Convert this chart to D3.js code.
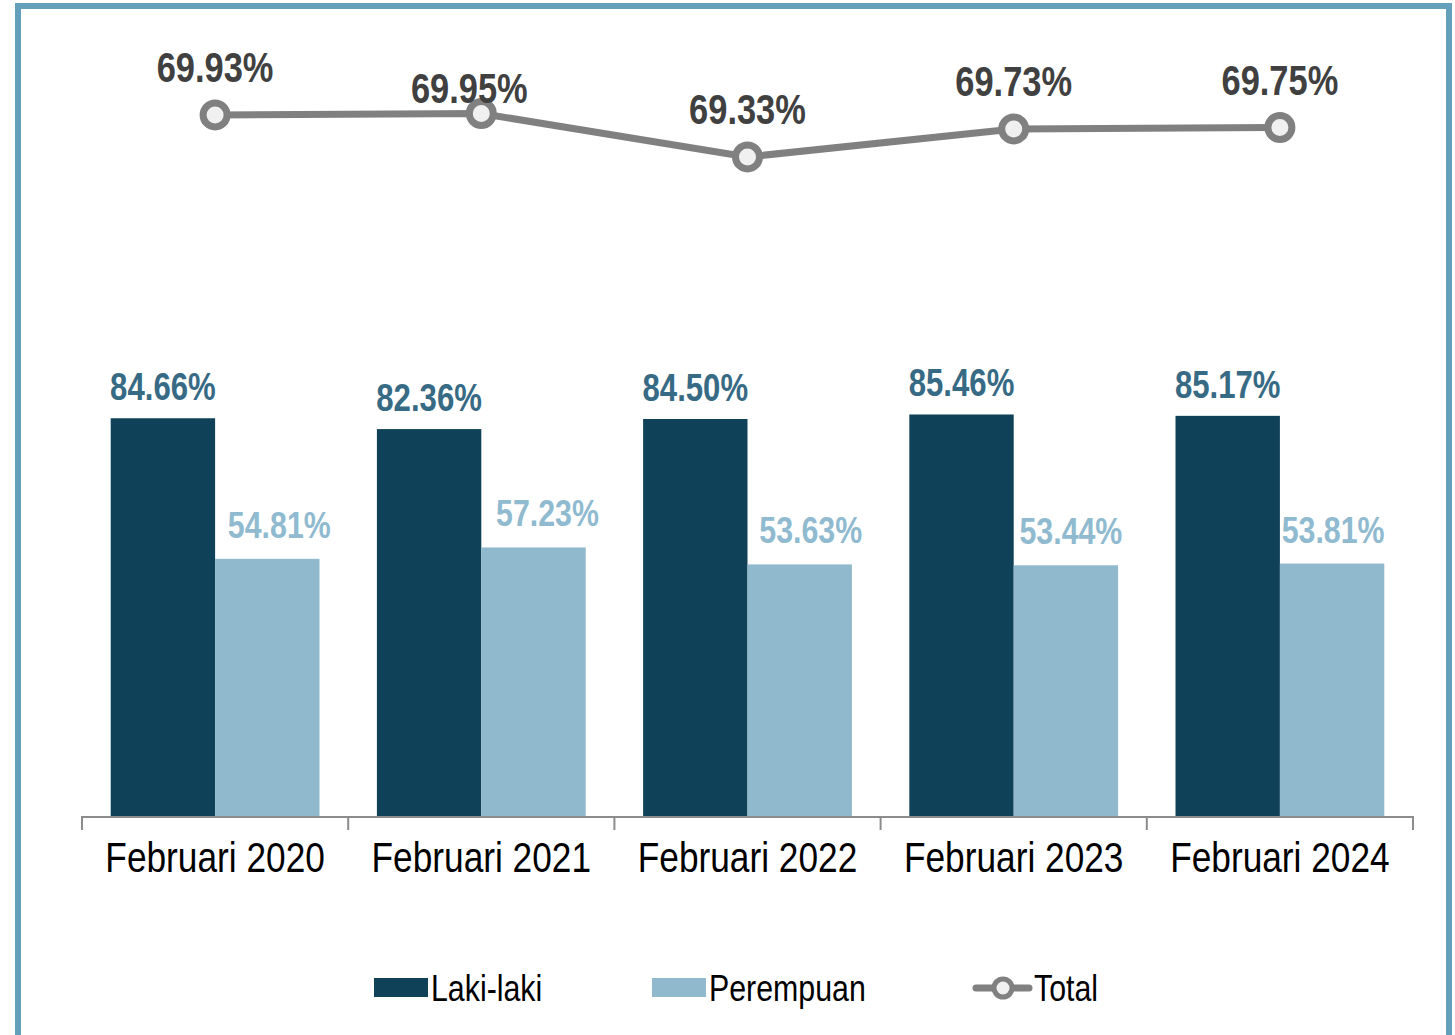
<!DOCTYPE html>
<html>
<head>
<meta charset="utf-8">
<script src="https://cdn.jsdelivr.net/npm/d3@7"></script>
<style>
    body { margin: 0; background: #fff; }
    svg { display: block; }
    text { font-family: "Liberation Sans Narrow", "Arial Narrow", "Liberation Sans", Arial, sans-serif; }
</style>
</head>
<body>
<svg id="chart" width="1455" height="1035"></svg>
<script>
let categories = ['Februari 2020', 'Februari 2021', 'Februari 2022', 'Februari 2023', 'Februari 2024']
let laki = [84.66, 82.36, 84.50, 85.46, 85.17]
let perempuan = [54.81, 57.23, 53.63, 53.44, 53.81]
let total = [69.93, 69.95, 69.33, 69.73, 69.75]
let legend_labels = ['Laki-laki', 'Perempuan', 'Total']

let colors = {
    laki: '#0f4159',
    laki_label: '#376a84',
    perempuan: '#90b9cd',
    perempuan_label: '#8fbacf',
    line: '#808080',
    dot_fill: '#f0f0f0',
    total_label: '#404040',
    border: '#64a0bb'
}

let width = 1455
let height = 1035

let pad = { 'l': 82, 'r': 42, 'base': 817 }

// no narrow face installed, so squeeze a regular one
let narrow = 0.82

// hand placed labels in the original
let perempuan_shift = [12, 14, 11, 5, 1]
let total_nudge = { 1: [-12, 22] }

let svg = d3.select('#chart')

function add_text(sel, x, y, size) {
    return sel.append('text')
        .attr('transform', (d, i) => `translate(${x(d, i)},${y(d, i)}) scale(${narrow},1)`)
        .attr('font-size', size)
}

// frame, bottom edge runs off the picture
svg.append('rect')
    .attr('x', 18).attr('y', 6)
    .attr('width', 1431).attr('height', 1100)
    .attr('fill', 'none')
    .attr('stroke', colors.border)
    .attr('stroke-width', 6)

let x = d3.scaleBand()
    .domain(categories)
    .range([pad.l, width - pad.r])

let x_inner = d3.scaleBand()
    .domain(['laki', 'perempuan'])
    .range([0, x.bandwidth()])
    .paddingOuter(0.275)

let y = d3.scaleLinear()
    .domain([0, 100])
    .range([pad.base, pad.base - 471])

// secondary axis for Total, hidden
let y2 = d3.scaleLinear()
    .domain([68, 70])
    .range([250, 110])

let groups = svg.selectAll('g.cat').data(categories).enter()
    .append('g')
    .classed('cat', true)
    .attr('transform', d => `translate(${x(d)},0)`)

groups.append('rect')
    .attr('x', x_inner('laki'))
    .attr('y', (d, i) => y(laki[i]))
    .attr('width', x_inner.bandwidth())
    .attr('height', (d, i) => y(0) - y(laki[i]))
    .attr('fill', colors.laki)

groups.append('rect')
    .attr('x', x_inner('perempuan'))
    .attr('y', (d, i) => y(perempuan[i]))
    .attr('width', x_inner.bandwidth())
    .attr('height', (d, i) => y(0) - y(perempuan[i]))
    .attr('fill', colors.perempuan)

add_text(groups, () => x_inner('laki') + x_inner.bandwidth() / 2, (d, i) => y(laki[i]) - 18, 38)
    .attr('text-anchor', 'middle')
    .attr('font-weight', 'bold')
    .attr('fill', colors.laki_label)
    .text((d, i) => laki[i].toFixed(2) + '%')

add_text(groups, (d, i) => x_inner('perempuan') + x_inner.bandwidth() / 2 + perempuan_shift[i],
        (d, i) => y(perempuan[i]) - 21, 37)
    .attr('text-anchor', 'middle')
    .attr('font-weight', 'bold')
    .attr('fill', colors.perempuan_label)
    .text((d, i) => perempuan[i].toFixed(2) + '%')

// axis
let axis = svg.append('g')
    .attr('transform', `translate(0,${pad.base})`)
    .call(d3.axisBottom(x).tickSize(0).tickFormat(''))
axis.select('.domain').attr('stroke', '#8c8c8c').attr('stroke-width', 2)
    .attr('d', `M${pad.l},13V0H${width - pad.r}V13`)

let edges = categories.map(d => x(d)).concat([width - pad.r])
axis.selectAll('line.sep').data(edges).enter()
    .append('line')
    .classed('sep', true)
    .attr('x1', d => d).attr('x2', d => d)
    .attr('y1', 0).attr('y2', 13)
    .attr('stroke', '#8c8c8c')
    .attr('stroke-width', 2)

add_text(axis.selectAll('g.lab').data(categories).enter().append('g').classed('lab', true),
        d => x(d) + x.bandwidth() / 2, () => 55, 43)
    .attr('text-anchor', 'middle')
    .attr('fill', '#000')
    .text(d => d)

// total line
let cx = d => x(d) + x.bandwidth() / 2
let line = d3.line()
    .x((d, i) => cx(categories[i]))
    .y(d => y2(d))

svg.append('path')
    .datum(total)
    .attr('d', line)
    .attr('fill', 'none')
    .attr('stroke', colors.line)
    .attr('stroke-width', 7)

svg.selectAll('circle.dot').data(total).enter()
    .append('circle')
    .classed('dot', true)
    .attr('cx', (d, i) => cx(categories[i]))
    .attr('cy', d => y2(d))
    .attr('r', 12)
    .attr('fill', colors.dot_fill)
    .attr('stroke', colors.line)
    .attr('stroke-width', 7)

let total_g = svg.selectAll('g.total').data(total).enter()
    .append('g')
    .classed('total', true)
add_text(total_g,
        (d, i) => cx(categories[i]) + (total_nudge[i] ? total_nudge[i][0] : 0),
        (d, i) => y2(d) - 33 + (total_nudge[i] ? total_nudge[i][1] : 0), 42)
    .attr('text-anchor', 'middle')
    .attr('font-weight', 'bold')
    .attr('fill', colors.total_label)
    .text(d => d.toFixed(2) + '%')

// legend
let legend = svg.append('g').attr('transform', 'translate(0,988)')

legend.append('rect')
    .attr('x', 374).attr('y', -10).attr('width', 54).attr('height', 19)
    .attr('fill', colors.laki)
legend.append('rect')
    .attr('x', 652).attr('y', -10).attr('width', 54).attr('height', 19)
    .attr('fill', colors.perempuan)

legend.append('line')
    .attr('x1', 976).attr('x2', 1029)
    .attr('y1', 0).attr('y2', 0)
    .attr('stroke', colors.line)
    .attr('stroke-width', 7)
    .attr('stroke-linecap', 'round')
legend.append('circle')
    .attr('cx', 1003).attr('cy', 0).attr('r', 9)
    .attr('fill', colors.dot_fill)
    .attr('stroke', colors.line)
    .attr('stroke-width', 5)

let legend_x = [431, 709, 1034]
add_text(legend.selectAll('g.item').data(legend_labels).enter().append('g').classed('item', true),
        (d, i) => legend_x[i], () => 13, 37)
    .attr('fill', '#000')
    .text(d => d)
</script>
</body>
</html>
